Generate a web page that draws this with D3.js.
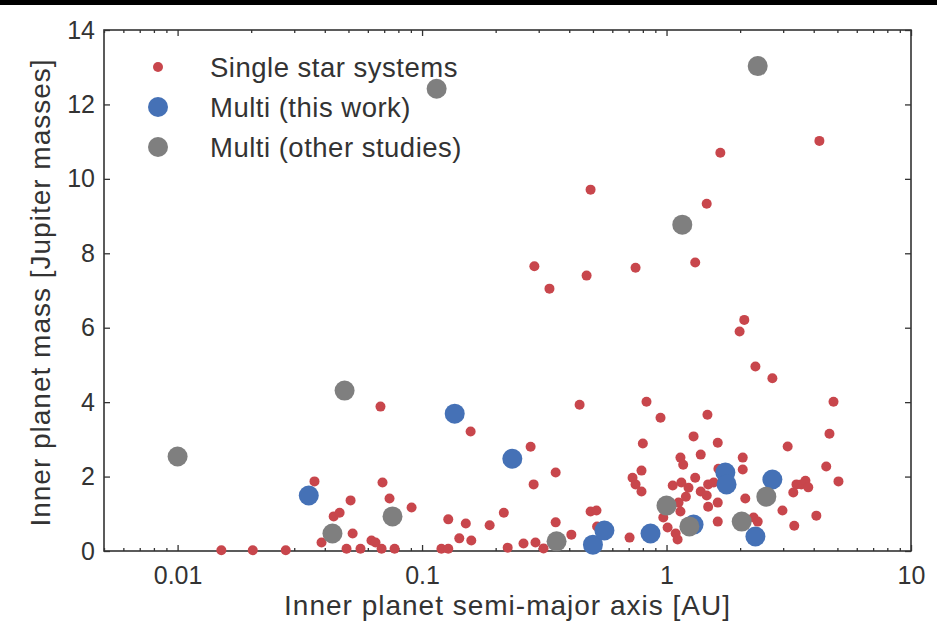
<!DOCTYPE html>
<html>
<head>
<meta charset="utf-8">
<script src="https://cdn.jsdelivr.net/npm/d3@7"></script>
<style>
  body { margin: 0; background: #fff; }
  svg { display: block; font-family: "Liberation Sans", Arial, sans-serif; }
</style>
</head>
<body>
<div id="chart"></div>
<script>
// single star systems: semi-major axis [AU] and mass [M_Jup]
const singleA = [0.0151, 0.0203, 0.0277, 0.0363, 0.0388, 0.0435, 0.046, 0.051, 0.052, 0.0491,
  0.056, 0.0621, 0.0645, 0.0683, 0.0772, 0.0676, 0.0689, 0.0736, 0.0906, 0.120,
  0.128, 0.128, 0.142, 0.151, 0.159, 0.158, 0.189, 0.216, 0.224, 0.26,
  0.278, 0.286, 0.288, 0.291, 0.314, 0.332, 0.352, 0.352, 0.408, 0.441,
  0.471, 0.489, 0.489, 0.517, 0.52, 0.706, 0.726, 0.747, 0.747, 0.79,
  0.79, 0.80, 0.828, 0.945, 0.97, 1.01, 1.06, 1.09, 1.11, 1.12,
  1.14, 1.14, 1.15, 1.17, 1.20, 1.23, 1.29, 1.31, 1.31, 1.38,
  1.38, 1.46, 1.46, 1.47, 1.48, 1.48, 1.56, 1.62, 1.62, 1.62,
  1.63, 1.66, 1.68, 1.99, 2.05, 2.05, 2.08, 2.10, 2.27, 2.31,
  2.36, 2.71, 2.98, 3.13, 3.3, 3.33, 3.4, 3.56, 3.7, 3.8,
  4.1, 4.22, 4.5, 4.64, 4.82, 5.05];
const singleM = [0.02, 0.02, 0.02, 1.87, 0.23, 0.93, 1.03, 1.36, 0.47, 0.06,
  0.06, 0.28, 0.23, 0.06, 0.06, 3.88, 1.84, 1.41, 1.17, 0.06,
  0.06, 0.85, 0.34, 0.74, 0.28, 3.21, 0.69, 1.03, 0.09, 0.20,
  2.80, 1.79, 7.65, 0.23, 0.07, 7.05, 2.11, 0.77, 0.44, 3.93,
  7.40, 9.71, 1.06, 1.09, 0.66, 0.36, 1.97, 1.79, 7.61, 2.16,
  1.60, 2.89, 4.01, 3.58, 0.90, 0.63, 1.76, 0.47, 0.31, 1.30,
  1.06, 2.51, 1.84, 2.32, 1.46, 1.70, 3.08, 1.97, 7.75, 2.59,
  1.60, 1.49, 9.33, 3.66, 1.79, 1.19, 1.84, 2.91, 1.30, 0.79,
  2.21, 10.70, 1.80, 5.90, 2.51, 2.19, 6.21, 1.41, 0.90, 4.96,
  0.79, 4.64, 1.09, 2.81, 1.57, 0.68, 1.79, 1.79, 1.89, 1.71,
  0.95, 11.02, 2.27, 3.15, 4.01, 1.87];

// multiple star systems, this work
const thisA = [0.0344, 0.136, 0.234, 0.50, 0.557, 0.86, 1.29, 1.74, 1.76, 2.31, 2.71];
const thisM = [1.49, 3.69, 2.48, 0.17, 0.55, 0.47, 0.71, 2.11, 1.79, 0.39, 1.92];

// multiple star systems, other studies
const otherA = [0.01, 0.0482, 0.1147, 2.36, 1.16, 0.043, 0.0757, 0.355, 1.0, 1.24, 2.03, 2.56];
const otherM = [2.54, 4.31, 12.42, 13.03, 8.77, 0.47, 0.93, 0.26, 1.22, 0.66, 0.79, 1.46];

const legendLabels = ["Single star systems", "Multi (this work)", "Multi (other studies)"];
const xMajor = [0.01, 0.1, 1, 10];
const xLabels = ["0.01", "0.1", "1", "10"];
const yMajor = [0, 2, 4, 6, 8, 10, 12, 14];

const W = 937, H = 634;
const margin = { left: 104, right: 26, top: 30, bottom: 83 };
const red = "#c8464c", blue = "#4571b6", grey = "#7f7f7f", ink = "#333";

const svg = d3.select("#chart").append("svg")
  .attr("width", W).attr("height", H);

// black rule across the very top
svg.append("rect").attr("x", 0).attr("y", 0).attr("width", W).attr("height", 5).attr("fill", "#000");

const x = d3.scaleLog().domain([0.005, 10]).range([margin.left, W - margin.right]);
const y = d3.scaleLinear().domain([0, 14]).range([H - margin.bottom, margin.top]);

// minor log ticks (2..9 of each decade)
let xMinor = [];
for (let d = 0.001; d < 10; d *= 10) {
  for (let k = 2; k <= 9; k++) {
    const v = +(k * d).toPrecision(3);
    if (v >= 0.005 && v <= 10) xMinor.push(v);
  }
}

const x0 = margin.left, x1 = W - margin.right, y0 = H - margin.bottom, y1 = margin.top;

// axes, ticks pointing inward on all four sides
let styleAxis = g => {
  g.select(".domain").remove();
  g.selectAll(".tick line").attr("stroke", ink).attr("stroke-width", 1.3);
  g.selectAll(".tick text").attr("fill", ink).attr("font-size", 25);
};

svg.append("g").attr("transform", `translate(0,${y0})`)
  .call(d3.axisBottom(x).tickValues(xMinor).tickFormat("").tickSizeInner(-3).tickSizeOuter(0))
  .call(styleAxis);
svg.append("g").attr("transform", `translate(0,${y0})`)
  .call(d3.axisBottom(x).tickValues(xMajor).tickFormat((d, i) => xLabels[i]).tickSizeInner(-6).tickSizeOuter(0).tickPadding(15))
  .call(styleAxis);
svg.append("g").attr("transform", `translate(0,${y1})`)
  .call(d3.axisTop(x).tickValues(xMinor).tickFormat("").tickSizeInner(-3).tickSizeOuter(0))
  .call(styleAxis);
svg.append("g").attr("transform", `translate(0,${y1})`)
  .call(d3.axisTop(x).tickValues(xMajor).tickFormat("").tickSizeInner(-6).tickSizeOuter(0))
  .call(styleAxis);
svg.append("g").attr("transform", `translate(${x0},0)`)
  .call(d3.axisLeft(y).tickValues(yMajor).tickSizeInner(-6).tickSizeOuter(0).tickPadding(9))
  .call(styleAxis);
svg.append("g").attr("transform", `translate(${x1},0)`)
  .call(d3.axisRight(y).tickValues(yMajor).tickFormat("").tickSizeInner(-6).tickSizeOuter(0))
  .call(styleAxis);

// frame
svg.append("rect")
  .attr("x", x0).attr("y", y1).attr("width", x1 - x0).attr("height", y0 - y1)
  .attr("fill", "none").attr("stroke", ink).attr("stroke-width", 1.6);

// points: singles, then this work, then other studies on top
const plot = svg.append("g");
plot.selectAll("circle.single").data(d3.zip(singleA, singleM)).join("circle")
  .attr("class", "single")
  .attr("cx", d => x(d[0])).attr("cy", d => y(d[1])).attr("r", 5).attr("fill", red);
plot.selectAll("circle.this").data(d3.zip(thisA, thisM)).join("circle")
  .attr("class", "this")
  .attr("cx", d => x(d[0])).attr("cy", d => y(d[1])).attr("r", 10).attr("fill", blue);
plot.selectAll("circle.other").data(d3.zip(otherA, otherM)).join("circle")
  .attr("class", "other")
  .attr("cx", d => x(d[0])).attr("cy", d => y(d[1])).attr("r", 10).attr("fill", grey);

// legend
const legend = svg.append("g");
const legColors = [red, blue, grey], legR = [5, 10, 10];
legendLabels.forEach((lab, i) => {
  const ly = 67 + i * 40;
  legend.append("circle").attr("cx", 158).attr("cy", ly).attr("r", legR[i]).attr("fill", legColors[i]);
  legend.append("text").attr("x", 210).attr("y", ly).attr("dy", "0.36em")
    .attr("font-size", 27.5).attr("letter-spacing", 0.5).attr("fill", ink).text(lab);
});

// axis titles
svg.append("text")
  .attr("x", (x0 + x1) / 2).attr("y", 615).attr("text-anchor", "middle")
  .attr("font-size", 28).attr("letter-spacing", 1).attr("fill", ink)
  .text("Inner planet semi-major axis [AU]");
svg.append("text")
  .attr("transform", `translate(50,${(y0 + y1) / 2 + 2}) rotate(-90)`)
  .attr("text-anchor", "middle")
  .attr("font-size", 28).attr("letter-spacing", 1).attr("fill", ink)
  .text("Inner planet mass [Jupiter masses]");
</script>
</body>
</html>
